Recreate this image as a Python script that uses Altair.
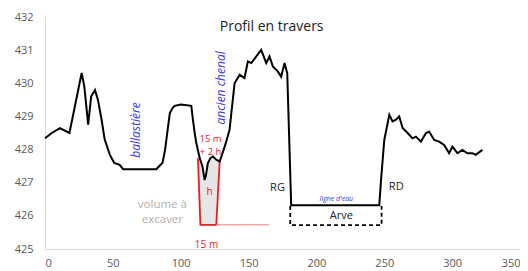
import altair as alt
import pandas as pd

# ---- profile data (distance m, altitude m) ----
dist = [0, 5, 11, 18, 22, 27, 29, 31.8, 34, 36.8, 39, 41.7, 44, 47.8, 51, 55, 57.6, 70, 82,
        86.6, 88.5, 90.7, 92, 94, 95.6, 100, 107.8, 109, 110.3, 111.5, 114, 116, 117.6, 118.5,
        120, 122, 123.8, 126, 128.7, 130.5, 132.4, 133.6, 136, 137.3, 139.7, 143.4, 147, 149.5,
        152, 155.7, 159.3, 163, 165.4, 167.9, 171.5, 174, 176.5, 178.5, 181.4, 246.3, 247.6,
        250, 253.7, 256.1, 258.6, 261, 263.5, 267.2, 270.8, 273.3, 277, 280.7, 283.1, 286.8,
        290.4, 294.1, 297.8, 300.2, 303.9, 307.6, 311.2, 314.9, 317.4, 322.3]
alt_m = [428.34, 428.5, 428.65, 428.5, 429.3, 430.31, 429.9, 428.75, 429.6, 429.8, 429.5, 428.9,
         428.3, 427.84, 427.6, 427.54, 427.41, 427.41, 427.41, 427.6, 428.0, 428.7, 429.1, 429.25,
         429.32, 429.36, 429.32, 428.9, 428.5, 428.2, 427.74, 427.5, 427.08, 427.2, 427.59,
         427.75, 427.79, 427.7, 427.64, 427.85, 428.09, 428.25, 428.6, 429.1, 430.0, 430.26,
         430.16, 430.66, 430.61, 430.81, 431.01, 430.61, 430.81, 430.51, 430.36, 430.2, 430.61,
         430.3, 426.32, 426.32, 427.08, 428.29, 429.05, 428.85, 428.9, 429.0, 428.65, 428.5,
         428.34, 428.39, 428.24, 428.5, 428.54, 428.29, 428.24, 428.14, 427.89, 428.09, 427.89,
         427.99, 427.89, 427.89, 427.84, 427.99]

# excavation trapezoid
trap_x = [112.7, 114.5, 126.2, 128.7]
trap_y = [427.74, 425.73, 425.73, 427.64]
# grey fill (lower / upper bounds)
fill_x = [112.7, 114.5, 117.6, 120, 123.8, 126.2, 128.7]
fill_lo = [427.74, 425.73, 425.73, 425.73, 425.73, 425.73, 427.64]
fill_hi = [427.74, 427.65, 427.08, 427.59, 427.79, 427.72, 427.64]
# faded red base line
base_x = [126.2, 165]
base_y = [425.73, 425.73]
# dashed river bed
bed_x = [180.7, 180.7, 248, 248]
bed_y = [426.3, 425.72, 425.72, 426.3]

x_ticks = [0, 50, 100, 150, 200, 250, 300, 350]
y_ticks = [425, 426, 427, 428, 429, 430, 431, 432]

FONT = "Open Sans"
xs = alt.Scale(domain=[0, 350], nice=False, zero=False)
ys = alt.Scale(domain=[425, 432], nice=False, zero=False)
xax = alt.Axis(values=x_ticks, title=None, grid=False, ticks=False, domainColor="#d9d9d9",
               labelColor="#595959", labelFontSize=11, labelPadding=8, labelFont=FONT,
               labelOverlap=False)
yax = alt.Axis(values=y_ticks, title=None, grid=False, ticks=False, domainColor="#d9d9d9",
               labelColor="#595959", labelFontSize=11, labelPadding=12, labelFont=FONT,
               labelOverlap=False)


def X(f):
    return alt.X(f, scale=xs, axis=xax)


def Y(f):
    return alt.Y(f, scale=ys, axis=yax)


prof = pd.DataFrame({"x": dist, "y": alt_m})
line = alt.Chart(prof).mark_line(color="black", strokeWidth=2).encode(x=X("x:Q"), y=Y("y:Q"))

fill = alt.Chart(pd.DataFrame({"x": fill_x, "lo": fill_lo, "hi": fill_hi})).mark_area(
    color="#e6e6e6", opacity=1).encode(x=X("x:Q"), y=Y("lo:Q"), y2="hi:Q")

trap = alt.Chart(pd.DataFrame({"x": trap_x, "y": trap_y, "o": list(range(4))})).mark_line(
    color="#e8201c", strokeWidth=1.8).encode(x=X("x:Q"), y=Y("y:Q"), order="o:Q")

base = alt.Chart(pd.DataFrame({"x": base_x, "y": base_y})).mark_line(
    color="#f08080", strokeWidth=1.5, opacity=0.7).encode(x=X("x:Q"), y=Y("y:Q"))

bed = alt.Chart(pd.DataFrame({"x": bed_x, "y": bed_y, "o": list(range(4))})).mark_line(
    color="black", strokeWidth=1.8, strokeDash=[4, 3]).encode(x=X("x:Q"), y=Y("y:Q"), order="o:Q")


def txt(labels, xv, yv, **kw):
    df = pd.DataFrame({"t": labels, "x": xv, "y": yv})
    return alt.Chart(df).mark_text(font=FONT, lineBreak="\n", **kw).encode(
        x=X("x:Q"), y=Y("y:Q"), text="t:N")


title = txt(["Profil en travers"], [167], [431.7], fontSize=14, color="#222222")
blue_rot = txt(["ballastière", "ancien chenal"], [66.9, 129.4], [428.59, 429.86],
               fontSize=12, color="#3a3ae0", angle=270, fontStyle="italic")
red_top = txt(["15 m\n+ 2 h"], [122], [428.32], fontSize=9.5, color="#e8201c", lineHeight=13)
red = txt(["h", "15 m"], [121.3, 119], [426.72, 425.12], fontSize=10, color="#e8201c")
grey = txt(["volume à\nexcaver"], [86.5], [426.32], fontSize=11.5, color="#b0b0b0", lineHeight=15)
black = txt(["RG", "RD", "Arve"], [171.3, 258.8, 218.4], [426.84, 426.87, 426.0],
            fontSize=11, color="#222222")
eau = txt(["ligne d'eau"], [214.7], [426.51], fontSize=7, color="#3a3ae0", fontStyle="italic")

chart = alt.layer(fill, trap, base, bed, line, title, blue_rot, red_top, red, grey, black, eau).properties(
    width=475, height=232,
    autosize=alt.AutoSizeParams(type="none"),
    padding={"left": 37, "top": 9, "right": 0, "bottom": 20},
).configure_view(stroke=None)

chart.save("out.html", embed_options={"renderer": "svg", "actions": False})
